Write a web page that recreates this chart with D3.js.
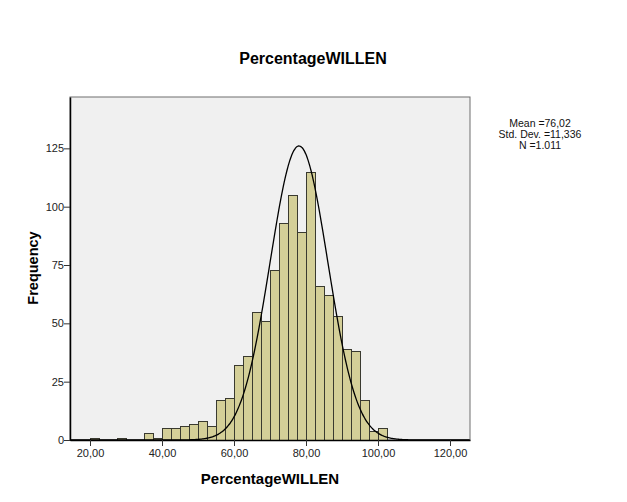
<!DOCTYPE html>
<html><head><meta charset="utf-8">
<script src="https://cdn.jsdelivr.net/npm/d3@7"></script>
<style>body{margin:0;background:#fff}svg{display:block}text{font-family:"Liberation Sans",Arial,sans-serif}</style>
</head><body>
<svg id="c" width="627" height="502"></svg>
<script>
// Data
const binStarts = [20,27.5,35,37.5,40,42.5,45,47.5,50,52.5,55,57.5,60,62.5,65,67.5,70,72.5,75,77.5,80,82.5,85,87.5,90,92.5,95,97.5,100];
const binCounts = [1,1,3,1,5,5,6,7,8,6,17,18,32,36,55,51,73,93,105,89,115,66,62,53,39,38,17,4,5];
const binWidth = 2.5;
const xTicks = [20,40,60,80,100,120];
const yTicks = [0,25,50,75,100,125];
const statsLines = ["Mean =76,02","Std. Dev. =11,336","N =1.011"];
const curveMean = 78.05, curveSD = 8.0, curveN = 1011;

const svg = d3.select("#c");
const L=70,R=470,T=97,B=440;
const x = d3.scaleLinear().domain([20-20/3.6,120+20/3.6]).range([L,R]);
const y = d3.scaleLinear().domain([0,(B-T)/(58.33/25)]).range([B,T]);

svg.append("rect").attr("x",L).attr("y",T).attr("width",R-L).attr("height",B-T)
  .attr("fill","#f0f0f0").attr("stroke","#6e6e6e").attr("stroke-width",1);

svg.append("g").selectAll("rect").data(binStarts).join("rect")
  .attr("x",(d)=>Math.round(x(d))+0.5)
  .attr("y",(d,i)=>Math.round(y(binCounts[i]))+0.5)
  .attr("width",d=>Math.round(x(d+binWidth))-Math.round(x(d)))
  .attr("height",(d,i)=>B-Math.round(y(binCounts[i])))
  .attr("fill","#d4cf98").attr("stroke","#3a3a30").attr("stroke-width",1);

// normal curve
const pts = d3.range(x.domain()[0], x.domain()[1]+0.01, 0.25).map(v=>[v,
  curveN*binWidth/(curveSD*Math.sqrt(2*Math.PI))*Math.exp(-0.5*((v-curveMean)/curveSD)**2)]);
svg.append("path").datum(pts)
  .attr("d",d3.line().x(d=>x(d[0])).y(d=>y(d[1])).curve(d3.curveBasis))
  .attr("fill","none").attr("stroke","#000").attr("stroke-width",1.3);

// axes
const fmt = d=>d.toFixed(2).replace(".",",");
const xa = svg.append("g").attr("transform",`translate(0,${B})`)
  .call(d3.axisBottom(x).tickValues(xTicks).tickSize(6).tickSizeOuter(0).tickFormat(fmt));
xa.select(".domain").attr("stroke","#000").attr("stroke-width",1.5);
xa.selectAll(".tick line").attr("stroke","#333");
xa.selectAll("text").attr("font-size",11).attr("fill","#222").attr("dy","1em").attr("y",6);

const ya = svg.append("g").attr("transform",`translate(${L},0)`)
  .call(d3.axisLeft(y).tickValues(yTicks).tickSize(6).tickSizeOuter(0));
ya.select(".domain").attr("stroke","#000").attr("stroke-width",1.5);
ya.selectAll(".tick line").attr("stroke","#333");
ya.selectAll("text").attr("font-size",11).attr("fill","#222").attr("x",-6);

svg.append("text").attr("x",313).attr("y",64).attr("text-anchor","middle")
  .attr("font-size",16).attr("font-weight","bold").text("PercentageWILLEN");
svg.append("text").attr("x",270).attr("y",484).attr("text-anchor","middle")
  .attr("font-size",15).attr("font-weight","bold").text("PercentageWILLEN");
svg.append("text").attr("transform","translate(38,268) rotate(-90)").attr("text-anchor","middle")
  .attr("font-size",14.5).attr("font-weight","bold").text("Frequency");

svg.append("g").selectAll("text").data(statsLines).join("text")
  .attr("x",540).attr("y",(d,i)=>127+i*11).attr("text-anchor","middle")
  .attr("font-size",10.5).attr("fill","#111").text(d=>d);
</script>
</body></html>
